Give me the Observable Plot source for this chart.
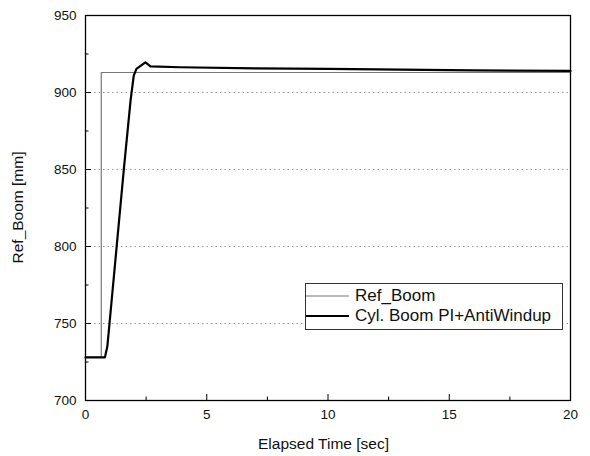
<!DOCTYPE html>
<html>
<head>
<meta charset="utf-8">
<script src="https://cdn.jsdelivr.net/npm/d3@7"></script>
<script src="https://cdn.jsdelivr.net/npm/@observablehq/plot@0.6"></script>
<style>
  body { margin: 0; background: #fff; }
  #wrap { position: relative; width: 590px; height: 456px; font-family: "Liberation Sans", Arial, sans-serif; }
  #legend { position: absolute; left: 305px; top: 283px; width: 258px; height: 47px; border: 1px solid #333; background: #fff; box-sizing: border-box; font-size: 17px; color: #111; padding-top: 2px; }
  .row { display: flex; align-items: center; height: 20px; }
  .sw { width: 43px; margin: 0 6px 0 0; }
</style>
</head>
<body>
<div id="wrap"></div>
<script>
// Series: Ref_Boom (reference step)
const refT = [0, 0.65, 0.65, 20];
const refV = [728, 728, 913, 913];
// Series: Cyl. Boom PI+AntiWindup
const cylT = [0, 0.8, 0.9, 0.99, 1.58, 1.86, 1.99, 2.10, 2.47, 2.68, 3.9, 7, 10, 13, 16, 20];
const cylV = [728, 728, 735, 750, 850, 895, 911, 915.4, 919.5, 917, 916.4, 915.7, 915.3, 914.8, 914.4, 914];
const xMajor = [0, 5, 10, 15, 20];
const xMinor = [2.5, 7.5, 12.5, 17.5];
const yMajor = [700, 750, 800, 850, 900, 950];
const yMinor = [725, 775, 825, 875, 925];
const yGrid = [750, 800, 850, 900];
const seriesNames = ["Ref_Boom", "Cyl. Boom PI+AntiWindup"];

const ref = refT.map((t, i) => ({t, v: refV[i]}));
const cyl = cylT.map((t, i) => ({t, v: cylV[i]}));

const W = 590, H = 456, mL = 85, mR = 20, mT = 15, mB = 56;
const pw = W - mL - mR, ph = H - mT - mB;

const chart = Plot.plot({
  width: W, height: H,
  marginLeft: mL, marginRight: mR, marginTop: mT, marginBottom: mB,
  style: {fontFamily: "'Liberation Sans', Arial, sans-serif", fontSize: "13.5px", color: "#111", background: "#fff"},
  x: {domain: [0, 20]},
  y: {domain: [700, 950]},
  marks: [
    Plot.ruleY(yGrid, {stroke: "#999", strokeDasharray: "1.5,3", strokeWidth: 1}),
    Plot.line(ref, {x: "t", y: "v", stroke: "#777", strokeWidth: 1.2}),
    Plot.line(cyl, {x: "t", y: "v", stroke: "#000", strokeWidth: 2.2}),
    Plot.tickY(yMajor, {y: d => d, insetRight: pw - 6, stroke: "#000"}),
    Plot.tickY(yMinor, {y: d => d, insetRight: pw - 3.5, stroke: "#000"}),
    Plot.tickX(xMajor, {x: d => d, insetTop: ph - 6, stroke: "#000"}),
    Plot.tickX(xMinor, {x: d => d, insetTop: ph - 3.5, stroke: "#000"}),
    Plot.axisY(yMajor, {tickSize: 0, tickPadding: 9, label: null}),
    Plot.axisX(xMajor, {tickSize: 0, tickPadding: 9, label: null}),
    Plot.frame({stroke: "#000", strokeWidth: 1.3})
  ]
});

const wrap = document.getElementById("wrap");
wrap.appendChild(chart);

const svg = d3.select(chart);
svg.append("text")
  .attr("x", mL + pw / 2 - 4).attr("y", H - 7)
  .attr("text-anchor", "middle").style("font-size", "15.5px").attr("fill", "#111")
  .text("Elapsed Time [sec]");
svg.append("text")
  .attr("transform", `translate(23,${mT + ph / 2}) rotate(-90)`)
  .attr("text-anchor", "middle").style("font-size", "15.5px").attr("fill", "#111")
  .text("Ref_Boom [mm]");

const legend = document.createElement("div");
legend.id = "legend";
legend.innerHTML = `
  <div class="row"><svg class="sw" width="43" height="10"><line x1="0" y1="5" x2="43" y2="5" stroke="#777" stroke-width="1.2"/></svg><span>${seriesNames[0]}</span></div>
  <div class="row"><svg class="sw" width="43" height="10"><line x1="0" y1="5" x2="43" y2="5" stroke="#000" stroke-width="2"/></svg><span>${seriesNames[1]}</span></div>`;
wrap.appendChild(legend);
</script>
</body>
</html>
